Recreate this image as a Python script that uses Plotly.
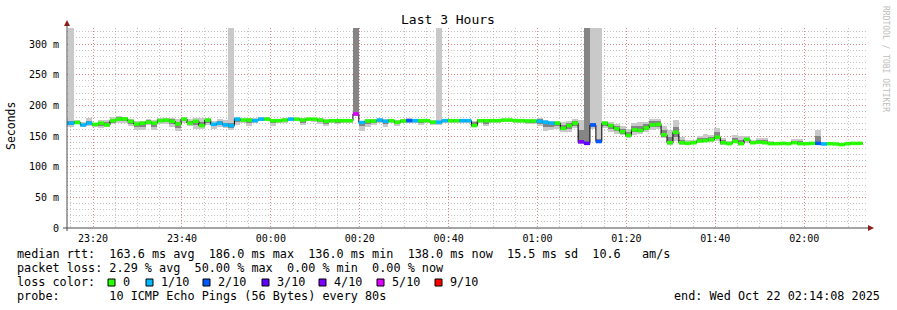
import pandas as pd
import plotly.graph_objects as go

# ---------------- data ----------------
# 80 s steps; first one is only partly visible at the left edge
step_start = pd.date_range("2025-10-21 23:13:08", periods=135, freq="80s")
t_start = "2025-10-21 23:14:08"
t_end = "2025-10-22 02:14:08"

median_ms = [
    171, 171, 172, 168, 171, 169, 171, 168, 175, 177.5, 178, 174, 169.5, 171, 172.5,
    171, 175, 176, 174, 169.5, 177.5, 171, 174, 167, 176, 169, 171, 168, 167, 177.5,
    176, 176, 175, 177.5, 177.5, 175, 175, 176, 177.5, 177.5, 176, 177.5, 177.5, 176, 174,
    175, 175, 175, 175, 186, 172, 174.5, 174.5, 176, 174, 175, 172.5, 174.5, 175, 175,
    175, 175, 172.5, 172.5, 175, 175, 175, 175, 175, 167, 175, 175, 175, 175, 176,
    176, 175, 175, 174.5, 174.5, 174, 172.5, 171, 171, 162.5, 167, 171, 140.5, 138, 168,
    141, 171, 167, 162, 157, 151, 160, 159, 163, 168, 169, 152, 139, 156, 139,
    138, 139, 142, 142.5, 144, 148, 139, 137.5, 141, 137.5, 144.5, 139, 140, 139, 137.5,
    137.5, 138, 137.5, 139, 137.5, 137.5, 138, 138, 137, 137.5, 137, 136, 137.5, 138, 138,
]
# lost pings out of 10 per step
loss = [
    1, 1, 0, 1, 1, 0, 0, 0, 0, 0, 0, 0, 0, 0, 0,
    0, 0, 0, 0, 0, 0, 0, 0, 0, 0, 1, 1, 1, 1, 1,
    0, 0, 1, 1, 0, 0, 0, 0, 1, 0, 0, 0, 0, 0, 0,
    0, 0, 0, 0, 5, 1, 0, 0, 1, 1, 0, 0, 0, 2, 1,
    0, 0, 0, 1, 1, 0, 0, 1, 1, 0, 0, 0, 0, 0, 0,
    0, 0, 0, 0, 0, 1, 1, 1, 0, 0, 0, 0, 4, 3, 2,
    2, 0, 0, 0, 0, 0, 0, 0, 0, 0, 0, 0, 0, 0, 0,
    0, 0, 0, 0, 0, 0, 0, 0, 0, 0, 0, 0, 0, 0, 0,
    0, 0, 0, 0, 0, 0, 0, 2, 1, 0, 0, 0, 0, 0, 0,
]
# smoke: spread of the ping RTTs above / below the median (ms)
smoke_up = [
    6, 300, 4, 5, 8, 3, 5, 8, 6, 5, 3, 4, 5, 4, 6,
    5, 4, 3, 5, 8, 4, 6, 5, 12, 4, 6, 6, 8, 300, 4,
    4, 4, 4, 3, 3, 3, 3, 3, 3, 2, 3, 2, 2, 3, 3,
    3, 3, 3, 3, 300, 3, 3, 3, 3, 3, 3, 3, 3, 4, 3,
    3, 3, 3, 300, 3, 2, 3, 3, 3, 8, 3, 3, 3, 2, 2,
    2, 2, 2, 3, 3, 5, 3, 3, 4, 10, 8, 6, 35, 300, 300,
    300, 4, 6, 8, 10, 10, 12, 14, 10, 10, 8, 14, 20, 20, 10,
    6, 4, 8, 10, 8, 15, 8, 4, 10, 12, 6, 5, 6, 8, 4,
    3, 3, 2, 6, 8, 3, 3, 22, 4, 2, 2, 2, 2, 2, 2,
]
smoke_dn = [
    6, 6, 3, 4, 4, 4, 8, 3, 5, 6, 7, 8, 10, 12, 4,
    12, 5, 7, 10, 12, 6, 4, 13, 6, 8, 7, 6, 5, 8, 10,
    4, 10, 4, 3, 3, 8, 3, 4, 3, 3, 8, 3, 4, 6, 8,
    4, 6, 4, 4, 4, 14, 10, 6, 5, 10, 4, 6, 4, 4, 4,
    7, 4, 4, 4, 3, 3, 3, 3, 3, 3, 3, 8, 3, 3, 3,
    3, 4, 3, 5, 5, 8, 15, 12, 10, 6, 10, 8, 3, 3, 6,
    3, 8, 10, 8, 6, 5, 8, 6, 6, 8, 8, 6, 3, 14, 3,
    2, 2, 3, 3, 4, 6, 3, 2, 3, 2, 6, 2, 3, 2, 2,
    2, 2, 2, 2, 2, 2, 2, 2, 2, 2, 2, 2, 2, 2, 2,
]
core_up = [
    3, 3, 2, 2, 3, 2, 2, 5, 3, 3, 2, 2, 2, 2, 3,
    2, 2, 2, 3, 4, 2, 3, 2, 6, 2, 3, 3, 4, 4, 2,
    2, 2, 2, 2, 2, 2, 2, 2, 2, 1, 2, 1, 1, 2, 2,
    2, 2, 2, 2, 300, 2, 2, 2, 2, 2, 2, 2, 2, 2, 2,
    2, 2, 2, 2, 2, 1, 2, 2, 2, 6, 2, 2, 2, 1, 1,
    1, 1, 1, 2, 2, 3, 2, 2, 2, 5, 4, 3, 20, 300, 4,
    4, 2, 3, 4, 5, 5, 6, 8, 6, 6, 5, 8, 10, 8, 4,
    3, 2, 4, 5, 4, 8, 4, 2, 5, 6, 3, 2, 3, 4, 2,
    1, 1, 1, 3, 4, 1, 1, 12, 2, 1, 1, 1, 1, 1, 1,
]
core_dn = [
    3, 3, 2, 2, 2, 2, 4, 2, 3, 3, 3, 4, 5, 6, 2,
    6, 2, 3, 5, 6, 3, 2, 6, 3, 4, 3, 3, 2, 4, 5,
    2, 5, 2, 2, 2, 4, 2, 2, 2, 2, 4, 2, 2, 3, 4,
    2, 3, 2, 2, 3, 6, 5, 3, 3, 5, 2, 3, 2, 2, 2,
    4, 2, 2, 2, 2, 2, 2, 2, 2, 2, 2, 5, 2, 2, 2,
    2, 2, 2, 3, 3, 4, 7, 6, 5, 3, 5, 4, 2, 2, 3,
    2, 4, 5, 4, 3, 3, 4, 3, 3, 4, 4, 3, 2, 7, 2,
    1, 1, 2, 2, 2, 3, 2, 1, 2, 1, 3, 1, 2, 1, 1,
    1, 1, 1, 1, 1, 1, 1, 1, 1, 1, 1, 1, 1, 1, 1,
]

loss_levels = [0, 1, 2, 3, 4, 5, 9]
loss_labels = ["0", "1/10", "2/10", "3/10", "4/10", "5/10", "9/10"]
loss_colors = ["#26ff00", "#00b8ff", "#0059ff", "#5e00ff", "#7e00ff", "#dd00ff", "#ff0000"]

y_tick_vals = [0, 50, 100, 150, 200, 250, 300]
y_tick_text = ["0", "50 m", "100 m", "150 m", "200 m", "250 m", "300 m"]
x_tick_vals = ["2025-10-21 23:20", "2025-10-21 23:40", "2025-10-22 00:00", "2025-10-22 00:20",
               "2025-10-22 00:40", "2025-10-22 01:00", "2025-10-22 01:20", "2025-10-22 01:40",
               "2025-10-22 02:00"]
x_tick_text = ["23:20", "23:40", "00:00", "00:20", "00:40", "01:00", "01:20", "01:40", "02:00"]

title_text = "Last 3 Hours"
y_title = "Seconds"
watermark = "RRDTOOL / TOBI OETIKER"
legend_rows = [
    "median rtt:  163.6 ms avg  186.0 ms max  136.0 ms min  138.0 ms now  15.5 ms sd  10.6   am/s",
    "packet loss: 2.29 % avg  50.00 % max  0.00 % min  0.00 % now",
    "loss color:",
    "probe:       10 ICMP Echo Pings (56 Bytes) every 80s",
]
end_text = "end: Wed Oct 22 02:14:08 2025"

for arr in (median_ms, loss, smoke_up, smoke_dn, core_up, core_dn):
    assert len(arr) == len(step_start), len(arr)

# ---------------- geometry ----------------
W, H = 897, 310
PL, PR, PT, PB = 67, 867, 28, 228
Y_MAX = 326.1
MONO = "DejaVu Sans Mono"
LEG_FS = 11.8


def xp(px):
    return (px - PL) / (PR - PL)


def yp(py):
    return (PB - py) / (PB - PT)


def nb(s):
    return s.replace(" ", "\u00a0")


step = pd.Timedelta(seconds=80)
x_center = step_start + pd.Timedelta(seconds=40)
STEP_MS = 80000

fig = go.Figure()

# outer smoke
fig.add_trace(go.Bar(
    x=x_center, y=[u + d for u, d in zip(smoke_up, smoke_dn)],
    base=[m - d for m, d in zip(median_ms, smoke_dn)],
    width=STEP_MS, marker=dict(color="#c9c9c9", line=dict(width=0)), hoverinfo="skip"))
# inner smoke
fig.add_trace(go.Bar(
    x=x_center, y=[u + d for u, d in zip(core_up, core_dn)],
    base=[m - d for m, d in zip(median_ms, core_dn)],
    width=STEP_MS, marker=dict(color="#858585", line=dict(width=0)), hoverinfo="skip"))

# median black step line
fig.add_trace(go.Scatter(
    x=list(step_start) + [step_start[-1] + step],
    y=list(median_ms) + [median_ms[-1]],
    mode="lines", line=dict(color="#000000", width=1, shape="hv"), hoverinfo="skip"))

# coloured median segments (one scatter per loss colour, drawn above the black line)
def loss_class(l):
    return min((lv for lv in loss_levels if lv >= l), default=9)


for lv, colr in zip(loss_levels, loss_colors):
    xs, ys = [], []
    for s, m, l in zip(step_start, median_ms, loss):
        if loss_class(l) == lv:
            xs += [s, s + step, None]
            ys += [m, m, None]
    if xs:
        fig.add_trace(go.Scatter(x=xs, y=ys, mode="lines", connectgaps=False,
                                 line=dict(color=colr, width=3.5), hoverinfo="skip"))

MAJ = "rgba(235,90,90,0.6)"
MIN = "rgba(140,140,140,0.5)"
DOT = "1px,2px"

fig.update_layout(
    width=W, height=H, margin=dict(l=PL, r=W - PR, t=PT, b=H - PB, pad=0),
    paper_bgcolor="white", plot_bgcolor="white", showlegend=False,
    barmode="overlay", bargap=0,
    font=dict(family=MONO, size=10, color="black"),
)
fig.update_xaxes(
    type="date", range=[t_start, t_end], tickmode="array",
    tickvals=x_tick_vals, ticktext=x_tick_text,
    showgrid=True, gridcolor=MAJ, griddash=DOT, gridwidth=1,
    minor=dict(tickmode="linear", tick0="2025-10-21 23:15:00", dtick=300000,
               showgrid=True, gridcolor=MIN, griddash=DOT, gridwidth=1),
    ticks="outside", ticklen=1, tickcolor="rgba(0,0,0,0)",
    tickfont=dict(family=MONO, size=10, color="black"),
    zeroline=False, showline=False, fixedrange=True,
)
fig.update_yaxes(
    range=[0, Y_MAX], tickmode="array", tickvals=y_tick_vals, ticktext=y_tick_text,
    showgrid=True, gridcolor=MAJ, griddash=DOT, gridwidth=1,
    minor=dict(tickmode="linear", tick0=0, dtick=10,
               showgrid=True, gridcolor=MIN, griddash=DOT, gridwidth=1),
    ticks="outside", ticklen=5, tickcolor="rgba(0,0,0,0)",
    tickfont=dict(family=MONO, size=10, color="black"),
    zeroline=False, showline=False, fixedrange=True,
)

AXC = "#4a4a4a"
ARC = "#8b1c1c"
shapes = [
    dict(type="line", xref="paper", yref="paper", x0=xp(PL), x1=xp(PL), y0=yp(PB + 3), y1=yp(25),
         line=dict(color=AXC, width=1)),
    dict(type="line", xref="paper", yref="paper", x0=xp(63), x1=xp(869), y0=yp(PB), y1=yp(PB),
         line=dict(color=AXC, width=1)),
    dict(type="path", xref="paper", yref="paper",
         path=f"M {xp(64)},{yp(26)} L {xp(70)},{yp(26)} L {xp(67)},{yp(20)} Z",
         fillcolor=ARC, line=dict(color=ARC, width=0)),
    dict(type="path", xref="paper", yref="paper",
         path=f"M {xp(868)},{yp(225)} L {xp(868)},{yp(231)} L {xp(874)},{yp(228)} Z",
         fillcolor=ARC, line=dict(color=ARC, width=0)),
]

annotations = [
    dict(text=nb(title_text), x=xp(448), y=yp(19), xanchor="center", yanchor="middle",
         font=dict(family=MONO, size=13, color="black")),
    dict(text=nb(y_title), x=xp(11), y=yp(126), xanchor="center", yanchor="middle", textangle=-90,
         font=dict(family=MONO, size=11.5, color="black")),
    dict(text=nb(watermark), x=xp(886), y=yp(59), xanchor="center", yanchor="middle", textangle=90,
         font=dict(family=MONO, size=8, color="#bdbdbd")),
]
row_y = [254, 268, 282, 296]
for txt, ry in zip(legend_rows, row_y):
    annotations.append(dict(text=nb(txt), x=xp(15), y=yp(ry), xanchor="left", yanchor="middle",
                            font=dict(family=MONO, size=LEG_FS, color="black")))
annotations.append(dict(text=nb(end_text), x=xp(882), y=yp(296), xanchor="right", yanchor="middle",
                        font=dict(family=MONO, size=LEG_FS, color="black")))

box_x = [108, 146, 203, 262, 319, 377, 435]
for bx, lab, colr in zip(box_x, loss_labels, loss_colors):
    shapes.append(dict(type="rect", xref="paper", yref="paper",
                       x0=xp(bx), x1=xp(bx + 7), y0=yp(286), y1=yp(279),
                       fillcolor=colr, line=dict(color="black", width=1)))
    annotations.append(dict(text=nb(lab), x=xp(bx + 13), y=yp(282), xanchor="left", yanchor="middle",
                            font=dict(family=MONO, size=LEG_FS, color="black")))

for a in annotations:
    a.update(xref="paper", yref="paper", showarrow=False)

fig.update_layout(shapes=shapes, annotations=annotations)

fig.write_html("out.html", config={"displayModeBar": False, "staticPlot": True})
